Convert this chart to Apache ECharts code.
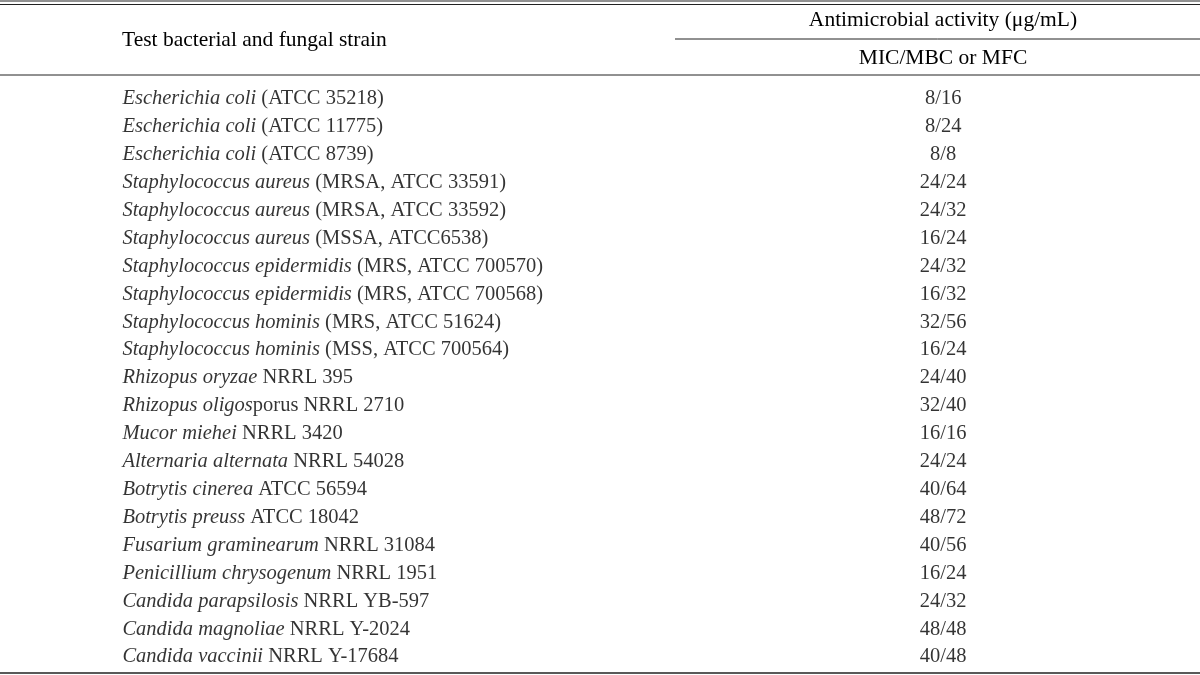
<!DOCTYPE html>
<html>
<head>
<meta charset="utf-8">
<script src="https://cdn.jsdelivr.net/npm/echarts@6/dist/echarts.min.js"></script>
<style>
    html, body { margin: 0; padding: 0; background: #fff; }
    #main { width: 1200px; height: 675px; }
</style>
</head>
<body>
<div id="main"></div>
<script>
    // italic part of each strain name, then the upright rest
    const species = [
        'Escherichia coli', 'Escherichia coli', 'Escherichia coli',
        'Staphylococcus aureus', 'Staphylococcus aureus', 'Staphylococcus aureus',
        'Staphylococcus epidermidis', 'Staphylococcus epidermidis',
        'Staphylococcus hominis', 'Staphylococcus hominis',
        'Rhizopus oryzae', 'Rhizopus oligos', 'Mucor miehei', 'Alternaria alternata',
        'Botrytis cinerea', 'Botrytis preuss', 'Fusarium graminearum',
        'Penicillium chrysogenum', 'Candida parapsilosis', 'Candida magnoliae', 'Candida vaccinii'
    ]
    const strains = [
        ' (ATCC 35218)', ' (ATCC 11775)', ' (ATCC 8739)',
        ' (MRSA, ATCC 33591)', ' (MRSA, ATCC 33592)', ' (MSSA, ATCC6538)',
        ' (MRS, ATCC 700570)', ' (MRS, ATCC 700568)',
        ' (MRS, ATCC 51624)', ' (MSS, ATCC 700564)',
        ' NRRL 395', 'porus NRRL 2710', ' NRRL 3420', ' NRRL 54028',
        ' ATCC 56594', ' ATCC 18042', ' NRRL 31084',
        ' NRRL 1951', ' NRRL YB-597', ' NRRL Y-2024', ' NRRL Y-17684'
    ]
    const mic = [8, 8, 8, 24, 24, 16, 24, 16, 32, 16, 24, 32, 16, 24, 40, 48, 40, 16, 24, 48, 40]
    const mbc = [16, 24, 8, 24, 32, 24, 32, 32, 56, 24, 40, 40, 16, 24, 64, 72, 56, 24, 32, 48, 48]

    const rows = species.map((s, i) => 'r' + i)
    const FONT = '"Liberation Serif", "DejaVu Serif", serif'
    const INK = '#000'
    const RULE = '#222'
    const SIZE = 20.5

    const chart = echarts.init(document.getElementById('main'))
    chart.setOption({
        backgroundColor: '#fff',
        animation: false,
        grid: { left: 0, right: 0, top: 85, bottom: 4 },
        xAxis: { type: 'value', min: 0, max: 100, show: false },
        yAxis: { type: 'category', data: rows, inverse: true, show: false },
        series: [
            {   // strain names
                type: 'scatter',
                symbolSize: 0,
                data: rows.map((r, i) => [10.2, r, i]),
                label: {
                    show: true,
                    position: 'inside',
                    align: 'left',
                    verticalAlign: 'middle',
                    fontFamily: FONT,
                    fontSize: SIZE,
                    color: INK,
                    formatter: p => `{it|${species[p.value[2]]}}${strains[p.value[2]]}`,
                    rich: {
                        it: { fontFamily: FONT, fontSize: SIZE, fontStyle: 'italic', color: INK }
                    }
                }
            },
            {   // MIC/MBC values
                type: 'scatter',
                symbolSize: 0,
                data: rows.map((r, i) => [78.6, r, i]),
                label: {
                    show: true,
                    position: 'inside',
                    align: 'center',
                    verticalAlign: 'middle',
                    fontFamily: FONT,
                    fontSize: SIZE,
                    color: INK,
                    formatter: p => `${mic[p.value[2]]}/${mbc[p.value[2]]}`
                }
            }
        ],
        graphic: [
            // table rules
            { type: 'line', shape: { x1: 0, y1: 1, x2: 1200, y2: 1 }, style: { stroke: RULE, lineWidth: 1 } },
            { type: 'line', shape: { x1: 0, y1: 4.5, x2: 1200, y2: 4.5 }, style: { stroke: RULE, lineWidth: 1 } },
            { type: 'line', shape: { x1: 675, y1: 39, x2: 1200, y2: 39 }, style: { stroke: RULE, lineWidth: 1 } },
            { type: 'line', shape: { x1: 0, y1: 75, x2: 1200, y2: 75 }, style: { stroke: RULE, lineWidth: 1 } },
            { type: 'line', shape: { x1: 0, y1: 673, x2: 1200, y2: 673 }, style: { stroke: RULE, lineWidth: 1.5 } },
            // headers
            { type: 'text', x: 122, y: 40, style: { text: 'Test bacterial and fungal strain', font: '21.5px ' + FONT, fill: INK, textAlign: 'left', textVerticalAlign: 'middle' } },
            { type: 'text', x: 943, y: 20, style: { text: 'Antimicrobial activity (\u03bcg/mL)', font: '21.5px ' + FONT, fill: INK, textAlign: 'center', textVerticalAlign: 'middle' } },
            { type: 'text', x: 943, y: 58, style: { text: 'MIC/MBC or MFC', font: '21.5px ' + FONT, fill: INK, textAlign: 'center', textVerticalAlign: 'middle' } }
        ]
    })
</script>
</body>
</html>
